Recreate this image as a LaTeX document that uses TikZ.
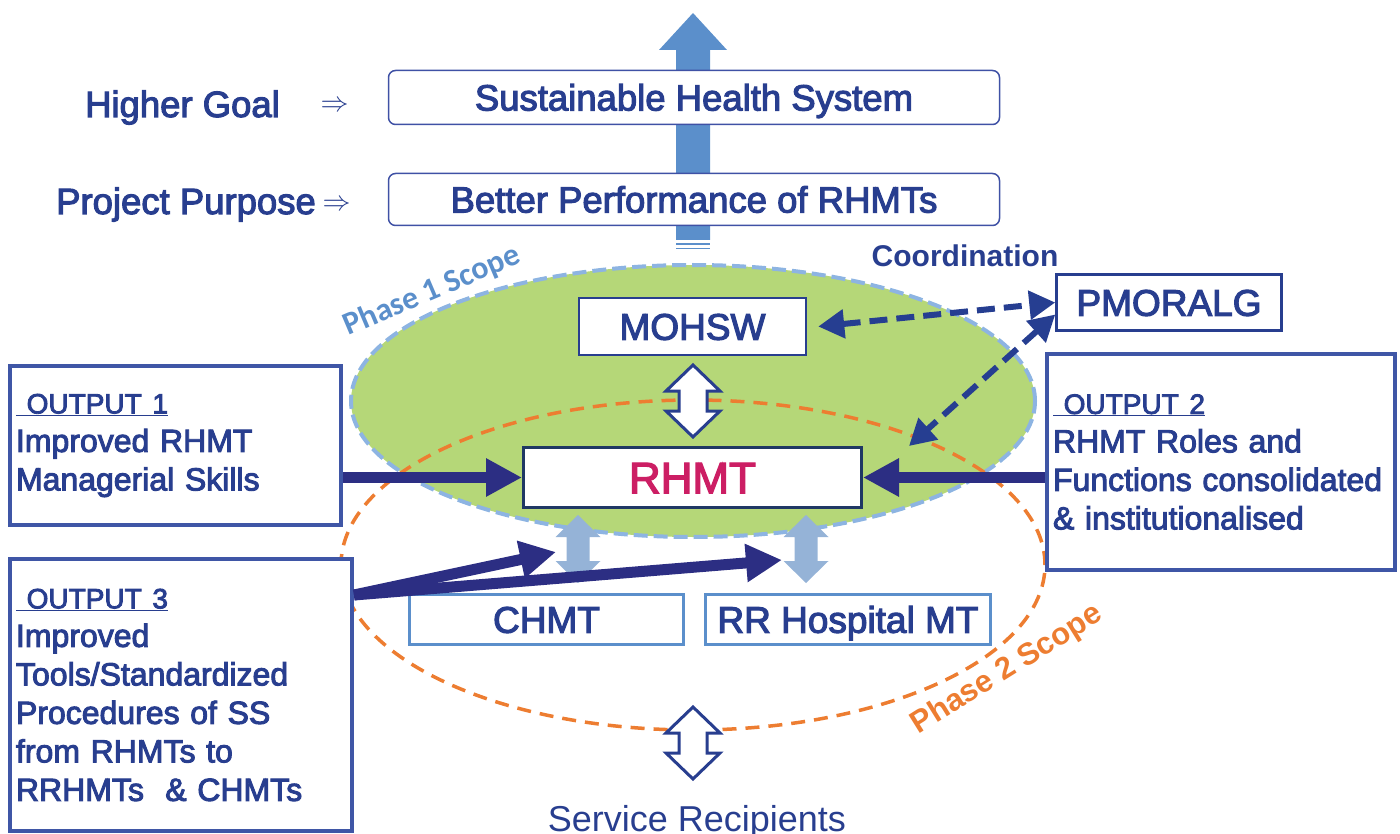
\RequirePackage{fix-cm}
\documentclass[tikz,border=0pt]{standalone}
\usepackage{fontspec}
\setmainfont{Liberation Sans}
\newfontfamily\heavysans{Liberation Sans}[FakeBold=3]
\newfontfamily\calibri{Carlito}
\usetikzlibrary{arrows.meta}

\definecolor{txtblue}{RGB}{40,62,143}
\definecolor{goalline}{RGB}{63,81,165}
\definecolor{outputline}{RGB}{63,86,166}
\definecolor{navy}{RGB}{44,46,131}
\definecolor{dashnavy}{RGB}{38,62,145}
\definecolor{rhmtline}{RGB}{31,56,100}
\definecolor{rhmtred}{RGB}{204,30,100}
\definecolor{skyblue}{RGB}{91,143,203}
\definecolor{paleblue}{RGB}{149,179,215}
\definecolor{scopegreen}{RGB}{181,215,120}
\definecolor{scopeblue}{RGB}{141,180,226}
\definecolor{scopeorange}{RGB}{237,125,49}

\begin{document}
\begin{tikzpicture}[x = 1pt, y = -1pt,
	goalbox/.style = {draw = goalline, line width = 1.5pt, rounded corners = 7pt, fill = white, text = txtblue,
		minimum width = 611pt, inner sep = 0pt, text height = 26pt, text depth = 0pt, font = \heavysans\fontsize{36.5}{44}\selectfont},
	orgbox/.style = {draw = txtblue, line width = 2.5pt, fill = white, text = txtblue,
		inner sep = 0pt, text height = 26.5pt, text depth = 0pt, font = \heavysans\fontsize{37}{44}\selectfont},
	tierbox/.style = {draw = skyblue, line width = 3pt, fill = white, text = txtblue, minimum height = 50pt,
		inner sep = 0pt, text height = 26.5pt, text depth = 0pt, font = \heavysans\fontsize{37}{44}\selectfont},
	outbox/.style = {draw = outputline, line width = 4pt, fill = white, text = txtblue, align = left,
		inner xsep = 6pt, inner ysep = 0pt, font = \heavysans\fontsize{32}{38.5}\selectfont},
	plain/.style = {text = txtblue, anchor = base, font = \heavysans\fontsize{36.5}{44}\selectfont},
	feedarrow/.style = {draw = navy, line width = 11pt, -{Triangle[length = 36pt, width = 36pt]}},
	coordarrow/.style = {draw = dashnavy, line width = 6pt, dash pattern = on 18pt off 9pt,
		{Triangle[length = 26pt, width = 28pt]}-{Triangle[length = 26pt, width = 28pt]}},
	hollowarrow/.style = {draw = txtblue, line width = 3pt, fill = white}]

	% Page

	\useasboundingbox (0, 0) rectangle (1400, 834);

	% Upward arrow behind the goal boxes

	\fill [skyblue] (676, 240) -- (676, 50) -- (659, 50) -- (693, 13) -- (727, 50) -- (710, 50) -- (710, 240) -- cycle;
	\draw [skyblue, line width = 1.5pt] (676, 244) -- (710, 244) (676, 248.5) -- (710, 248.5);

	% Goal and purpose

	\node [goalbox, minimum height = 54pt] (goal) at (694, 97.5) {Sustainable Health System};
	\node [goalbox, minimum height = 52pt] (purpose) at (694, 199.5) {Better Performance of RHMTs};

	\node [plain] (goallabel) at (182.5, 117) {Higher Goal};
	\node [plain] (purposelabel) at (186, 214) {Project Purpose};
	\node [text = txtblue, font = \fontsize{28}{32}\selectfont] (goalsign) at (334.5, 106) {$\Rightarrow$};
	\node [text = txtblue, font = \fontsize{28}{32}\selectfont] (purposesign) at (336.5, 205) {$\Rightarrow$};

	% Scopes

	\draw [fill = scopegreen, draw = scopeblue, line width = 4pt, dash pattern = on 14pt off 6pt]
		(693, 401) ellipse [x radius = 342pt, y radius = 136pt];
	\draw [draw = scopeorange, line width = 3.5pt, dash pattern = on 14pt off 9pt]
		(693, 565) ellipse [x radius = 352pt, y radius = 165pt];

	\node [rotate = 23, text = skyblue, font = \calibri\bfseries\fontsize{32}{38}\selectfont] (phaseone) at (432, 291) {Phase 1 Scope};
	\node [rotate = 32, text = scopeorange, font = \bfseries\fontsize{31}{36}\selectfont] (phasetwo) at (1007, 670) {Phase 2 Scope};

	% Organisations

	\node [orgbox, minimum width = 227pt, minimum height = 57pt] (mohsw) at (692.5, 326.5) {MOHSW};
	\node [orgbox, minimum width = 225pt, minimum height = 56pt] (pmoralg) at (1169, 302.5) {PMORALG};
	\node [orgbox, draw = rhmtline, line width = 3pt, text = rhmtred, minimum width = 338pt, minimum height = 60pt,
		text height = 31.5pt, font = \heavysans\fontsize{44}{52}\selectfont] (rhmt) at (692.5, 477.5) {RHMT};
	\node [tierbox, minimum width = 274pt] (chmt) at (546.5, 619.5) {CHMT};
	\node [tierbox, minimum width = 285pt] (rrhmt) at (848, 619.5) {RR Hospital MT};

	\node [text = txtblue, anchor = base, font = \bfseries\fontsize{30}{36}\selectfont] (coordlabel) at (965, 267) {Coordination};
	\node [text = txtblue, anchor = base, font = \fontsize{36}{44}\selectfont] (recipients) at (697, 831) {Service Recipients};

	% Outputs

	\node [outbox, minimum width = 331pt, minimum height = 159pt, text width = 319pt] (out1) at (175.5, 445.5)
		{{\fontsize{28}{38.5}\selectfont\underline{\ OUTPUT 1}}\\Improved RHMT\\Managerial Skills};
	\node [outbox, minimum width = 348pt, minimum height = 216pt, text width = 336pt] (out2) at (1221, 462)
		{{\fontsize{28}{38.5}\selectfont\underline{\ OUTPUT 2}}\\RHMT Roles and\\Functions consolidated\\\& institutionalised};
	\node [outbox, minimum width = 342pt, minimum height = 272pt, text width = 330pt] (out3) at (181, 695)
		{{\fontsize{28}{38.5}\selectfont\underline{\ OUTPUT 3}}\\Improved\\Tools/Standardized\\Procedures of SS\\from RHMTs to\\RRHMTs\ \ \& CHMTs};

	% Two way links

	\foreach \T/\B in {365/437, 707/779}
		\draw [hollowarrow] (693, \T) -- (720, {\T + 26}) -- (707, {\T + 26}) -- (707, {\B - 26}) -- (720, {\B - 26})
			-- (693, \B) -- (666, {\B - 26}) -- (679, {\B - 26}) -- (679, {\T + 26}) -- (666, {\T + 26}) -- cycle;

	\foreach \X in {578, 806}
		\fill [paleblue] (\X, 515) -- ({\X + 22.5}, 537) -- ({\X + 11.5}, 537) -- ({\X + 11.5}, 561) -- ({\X + 22.5}, 561)
			-- (\X, 583) -- ({\X - 22.5}, 561) -- ({\X - 11.5}, 561) -- ({\X - 11.5}, 537) -- ({\X - 22.5}, 537) -- cycle;

	% Output arrows

	\coordinate (chmtin) at (556, 552);
	\coordinate (rrhmtin) at (782, 560);

	\draw [feedarrow] (out1.east |- rhmt.west) -- (rhmt.west);
	\draw [feedarrow] (out2.west |- rhmt.east) -- (rhmt.east);
	\draw [feedarrow] ([yshift = 100pt] out3.east) -- (chmtin);
	\draw [feedarrow] ([yshift = 100pt] out3.east) -- (rrhmtin);

	% Coordination

	\draw [coordarrow] ([xshift = 11pt] mohsw.east) -- (pmoralg.west);
	\draw [coordarrow] ([yshift = -12pt] pmoralg.west) -- ([xshift = 46pt] rhmt.north east);

\end{tikzpicture}
\end{document}
